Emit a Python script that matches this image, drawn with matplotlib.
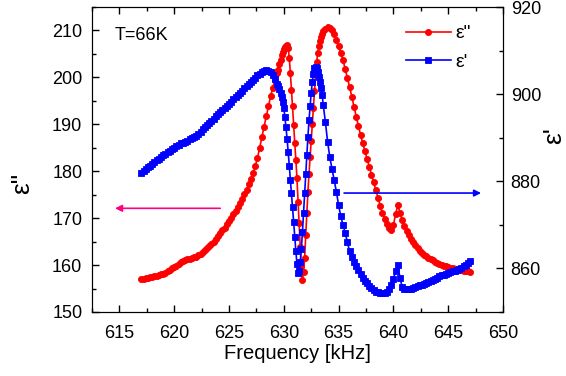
import numpy as np
import matplotlib
matplotlib.use('Agg')
import matplotlib.pyplot as plt
from matplotlib.ticker import MultipleLocator

plt.rcParams['font.family'] = ['Liberation Sans', 'DejaVu Sans']

# frequency sweep (kHz): coarse outside the resonance, fine inside it
freq = np.round(np.concatenate([np.arange(617.0, 629.45, 0.2),
                                np.arange(629.5, 633.55, 0.1),
                                np.arange(633.6, 647.05, 0.2)]), 2)

# epsilon'' (left axis)
eps2 = [
    157.0, 157.1, 157.2, 157.3, 157.4, 157.5, 157.6, 157.7, 157.9, 158.0,
    158.2, 158.4, 158.7, 159.0, 159.3, 159.6, 159.9, 160.3, 160.6, 160.9,
    161.1, 161.3, 161.4, 161.5, 161.7, 161.8, 162.1, 162.4, 162.8, 163.2,
    163.6, 164.0, 164.5, 165.0, 165.6, 166.2, 166.8, 167.4, 168.0, 168.7,
    169.4, 170.1, 170.8, 171.6, 172.4, 173.2, 174.1, 175.1, 176.1, 177.2,
    178.4, 179.6, 181.1, 182.9, 185.0, 187.3, 189.5, 191.7, 193.9, 196.0,
    197.8, 199.5, 201.0,
    # fine part
    201.6, 202.8, 203.8, 204.7, 205.4, 206.0, 206.4, 206.7, 206.9, 206.3,
    204.1, 200.9, 197.3, 193.8, 189.9, 186.0, 182.5, 178.5, 173.5, 168.9,
    163.9, 159.7, 156.8, 158.5, 161.5, 166.5, 171.0, 175.5, 179.5, 183.0,
    186.5, 190.0, 193.5, 197.0, 200.5, 203.3, 205.2, 206.6, 207.7, 208.6,
    209.3,
    # coarse again
    209.8, 210.4, 210.7, 210.6, 210.2, 209.2, 208.0, 206.6, 205.2, 203.7,
    201.8, 199.9, 198.0, 195.9, 193.7, 191.6, 189.7, 187.8, 186.0, 184.3,
    182.6, 181.0, 179.3, 177.6, 176.0, 174.3, 172.6, 171.0, 169.8, 168.7,
    167.9, 167.5, 168.6, 170.8, 172.8, 171.2, 169.6, 168.3, 167.2, 166.4,
    165.6, 164.9, 164.2, 163.6, 163.1, 162.6, 162.2, 161.9, 161.6, 161.3,
    161.0, 160.7, 160.5, 160.3, 160.1, 159.9, 159.7, 159.5, 159.4, 159.3,
    159.2, 159.1, 159.0, 158.9, 158.8, 158.7, 158.7, 158.6,
]

# epsilon' (right axis)
eps1 = [
    882.0, 882.4, 882.8, 883.2, 883.6, 884.0, 884.4, 884.8, 885.2, 885.6,
    886.0, 886.3, 886.7, 887.0, 887.3, 887.7, 888.0, 888.4, 888.7, 888.9,
    889.1, 889.3, 889.6, 889.9, 890.2, 890.5, 890.9, 891.4, 891.9, 892.4,
    892.9, 893.4, 893.9, 894.4, 894.9, 895.4, 895.9, 896.3, 896.8, 897.3,
    897.8, 898.3, 898.8, 899.3, 899.8, 900.3, 900.8, 901.3, 901.8, 902.3,
    902.8, 903.3, 903.8, 904.3, 904.7, 905.1, 905.4, 905.5, 905.4, 905.0,
    904.3, 903.5, 902.4,
    # fine part
    901.8, 901.1, 900.3, 899.4, 898.3, 896.8, 894.8, 892.4, 889.8, 886.8,
    883.6, 880.4, 877.2, 874.0, 870.6, 867.2, 864.0, 861.0, 858.9, 859.5,
    861.5, 864.5, 868.3, 872.7, 877.3, 881.7, 886.0, 890.2, 894.0, 897.3,
    900.3, 902.8, 904.7, 906.0, 906.3, 905.9, 905.1, 904.0, 902.8, 901.4,
    899.8,
    # coarse again
    897.5, 893.5, 889.0, 885.5, 882.8, 880.2, 877.6, 874.5, 872.0, 870.0,
    868.2, 866.0, 864.0, 862.6, 861.5, 860.5, 859.6, 858.7, 857.8, 857.2,
    856.6, 856.0, 855.5, 855.0, 854.7, 854.5, 854.3, 854.3, 854.4, 854.7,
    855.3, 856.2, 857.5, 859.5, 860.8, 857.8, 855.8, 855.3, 855.2, 855.2,
    855.3, 855.5, 855.7, 855.9, 856.1, 856.3, 856.5, 856.7, 856.9, 857.1,
    857.3, 857.6, 857.9, 858.2, 858.4, 858.6, 858.8, 858.9, 859.1, 859.3,
    859.5, 859.7, 859.9, 860.2, 860.5, 860.8, 861.2, 861.6,
]

fig = plt.figure(figsize=(5.66, 3.76), dpi=100)
ax = fig.add_axes([92 / 566, 1 - 312 / 376, 411 / 566, 305 / 376])
ax2 = ax.twinx()

l2, = ax.plot(freq, eps2, color='red', marker='o', markersize=4.4, lw=1.2,
              markeredgewidth=0.6, label='ε"')
l1, = ax2.plot(freq, eps1, color='blue', marker='s', markersize=4.0, lw=1.2,
               markeredgewidth=0.6, label="ε'")

ax.set_xlim(612.5, 650)
ax.set_ylim(150, 215)
ax2.set_ylim(850, 920)
ax.xaxis.set_major_locator(MultipleLocator(5))
ax.xaxis.set_minor_locator(MultipleLocator(2.5))
ax.yaxis.set_major_locator(MultipleLocator(10))
ax.yaxis.set_minor_locator(MultipleLocator(5))
ax2.yaxis.set_major_locator(MultipleLocator(20))
ax2.yaxis.set_minor_locator(MultipleLocator(10))

ax.tick_params(which='both', direction='in', top=True, labelsize=13, width=1)
ax.tick_params(which='major', length=5)
ax.tick_params(which='minor', length=3)
ax.tick_params(axis='x', which='major', pad=9)
ax.tick_params(axis='y', which='major', pad=7)
ax2.tick_params(which='both', direction='in', labelsize=13, width=1)
ax2.tick_params(which='major', length=5, pad=5.5)
ax2.tick_params(which='minor', length=3)

ax.set_xlabel('Frequency [kHz]', fontsize=14.5, labelpad=2)
ax.set_ylabel('ε"', fontsize=19)
ax2.set_ylabel("ε'", fontsize=19)
ax.yaxis.set_label_coords(-0.142, 0.42)
ax2.yaxis.set_label_coords(1.095, 0.58)

ax.text(614.6, 209, 'T=66K', fontsize=13, va='center')

# arrows pointing to the axis each curve belongs to
ax.annotate('', xy=(614.6, 172.1), xytext=(624.2, 172.1),
            arrowprops=dict(arrowstyle='-|>', color='#ff0080', lw=1.2,
                            mutation_scale=10, shrinkA=0, shrinkB=0))
ax2.annotate('', xy=(648.0, 877.3), xytext=(635.5, 877.3),
             arrowprops=dict(arrowstyle='-|>', color='blue', lw=1.2,
                             mutation_scale=10, shrinkA=0, shrinkB=0))

ax2.legend(handles=[l2, l1], loc='upper left', frameon=False, fontsize=14,
           bbox_to_anchor=(398 / 566, 1 - 17 / 376), bbox_transform=fig.transFigure,
           handlelength=2.3, labelspacing=0.55, handletextpad=0.25, borderaxespad=0)

fig.savefig('out.png', dpi=100)
